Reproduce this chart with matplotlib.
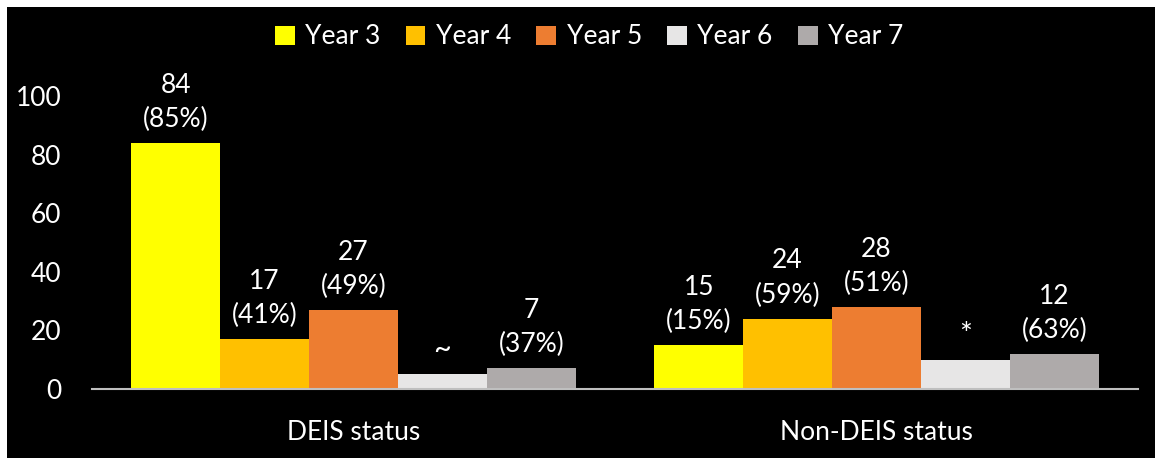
import matplotlib.pyplot as plt
from matplotlib.patches import Rectangle
import numpy as np

# values
groups = ['DEIS status', 'Non-DEIS status']
years = ['Year 3', 'Year 4', 'Year 5', 'Year 6', 'Year 7']
counts = {
    'Year 3': [84, 15],
    'Year 4': [17, 24],
    'Year 5': [27, 28],
    'Year 6': [5, 10],
    'Year 7': [7, 12],
}
labels = {
    'Year 3': ['84\n(85%)', '15\n(15%)'],
    'Year 4': ['17\n(41%)', '24\n(59%)'],
    'Year 5': ['27\n(49%)', '28\n(51%)'],
    'Year 6': ['~', '*'],
    'Year 7': ['7\n(37%)', '12\n(63%)'],
}
colors = ['#FFFF00', '#FFC000', '#ED7D31', '#E7E6E6', '#AEAAAA']

plt.rcParams['font.family'] = ['Lato', 'DejaVu Sans']

fig = plt.figure(figsize=(11.55, 4.58), dpi=100, facecolor='white')
# black panel, white strip on top and left
fig.patches.append(Rectangle((7 / 1155, 0), 1, 1 - 7 / 458, transform=fig.transFigure,
                             facecolor='black', edgecolor='none', zorder=-5))
ax = fig.add_axes([92 / 1155, 1 - 389 / 458, (1138 - 92) / 1155, (389 - 96) / 458])
ax.set_facecolor('black')

x = np.arange(len(groups))
w = 0.17
for i, yr in enumerate(years):
    pos = x + (i - 2) * w
    bars = ax.bar(pos, counts[yr], width=w, color=colors[i], label=yr, zorder=2)
    for b, lab in zip(bars, labels[yr]):
        fs = 22 if lab in ('~', '*') else 19
        ax.annotate(lab, (b.get_x() + b.get_width() / 2, b.get_height()),
                    xytext=(0, 8), textcoords='offset points', ha='center', va='bottom',
                    color='white', fontsize=fs, linespacing=1.45, annotation_clip=False)

ax.set_xlim(-0.5, 1.5)
ax.set_ylim(0, 100)
ax.set_yticks([0, 20, 40, 60, 80, 100])
ax.set_xticks(x)
ax.set_xticklabels(groups)
ax.tick_params(axis='both', length=0, colors='white', labelsize=19)
ax.tick_params(axis='x', pad=22)
ax.tick_params(axis='y', pad=22)
for s in ['top', 'right', 'left']:
    ax.spines[s].set_visible(False)
ax.spines['bottom'].set_color('#BFBFBF')
ax.spines['bottom'].set_linewidth(1.5)

leg = fig.legend(loc='center', bbox_to_anchor=(0.51, 1 - 37 / 458), ncol=5, frameon=False,
                 fontsize=19, handlelength=0.75, handleheight=0.75, handletextpad=0.4,
                 columnspacing=0.95, labelcolor='white')

fig.savefig('out.png', dpi=100, facecolor=fig.get_facecolor())
